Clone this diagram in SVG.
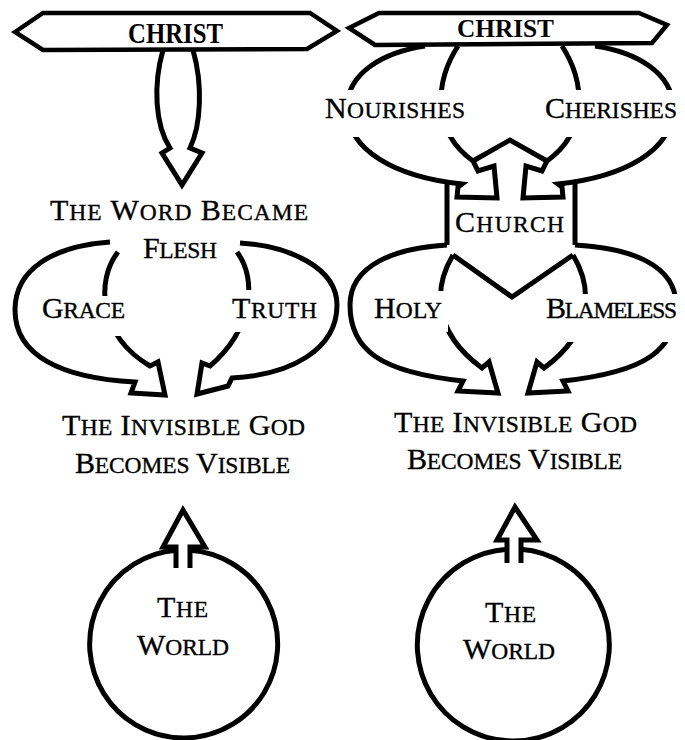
<svg xmlns="http://www.w3.org/2000/svg" width="685" height="740" viewBox="0 0 685 740">
<style>
.ln{fill:none;stroke:#000;stroke-width:5;stroke-linejoin:miter;stroke-miterlimit:6}
.bn{fill:#fff;stroke:#000;stroke-width:4.5;stroke-linejoin:miter}
.t{font-family:"Liberation Serif","Times New Roman",serif;font-size:30px;fill:#000;stroke:#000;stroke-width:0.35}
.s{font-size:23.5px}
.b{font-family:"Liberation Serif","Times New Roman",serif;font-weight:bold;fill:#000}
.bg{fill:#fff}
</style>
<rect width="685" height="740" fill="#fff"/>
<g id="connectors">
  <path class="ln" d="M163,50 C153,85 155,125 170,148 L162,153 L182,185 L202,153 L190,148 C201,125 203,85 193,50"/>
  <path class="ln" d="M110,242 C55,246 15,268 15,310 C15,355 60,378 135,382 L131,393 L165,395 L158,362 L150,366 C98,335 96,280 118,252"/>
  <path class="ln" d="M240,243 C290,246 337,268 337,305 C337,350 290,375 232,378 L228,386 L197,394 L202,363 L210,366 C252,330 258,280 237,252"/>
  <path class="ln" d="M425,46 C385,52 347,72 347,108 C347,150 395,177 462,184 L458,187 L457,197 L497,198 L494,166 L478,171 L473,161 C430,130 436,80 458,46"/>
  <path class="ln" d="M595,46 C635,52 673,72 673,108 C673,150 625,177 558,184 L562,187 L563,197 L523,198 L526,166 L542,171 L547,161 C590,130 584,80 562,46"/>
  <path class="ln" d="M447,245 C395,248 350,265 350,305 C350,350 380,372 463,381 L458,391 L498,393 L489,362 L482,368 C430,330 435,285 453,255"/>
  <path class="ln" d="M575,245 C631,248 676,265 676,305 C676,350 646,372 563,381 L568,391 L528,393 L537,362 L544,368 C596,330 591,285 573,255"/>
  <path class="ln" d="M176,568 L176,547 L163,547 L183,510 L205,547 L190,547 L190,568"/>
  <path class="ln" d="M507,563 L507,540 L497,540 L515,507 L537,540 L521,540 L521,563"/>
</g>
<g id="christ-left">
  <polygon class="bn" points="15,32 43,13 310,13 337,31 307,49 43,50"/>
  <text class="b" x="128" y="43" font-size="29" textLength="95" lengthAdjust="spacingAndGlyphs">CHRIST</text>
</g>
<g id="christ-right">
  <polygon class="bn" points="349,28 379,13 639,13 667,25 652,43 375,45"/>
  <text class="b" x="457" y="37" font-size="25" textLength="97" lengthAdjust="spacingAndGlyphs">CHRIST</text>
</g>
<g id="word-became-flesh">
  <text class="t" x="50" y="220" textLength="258">T<tspan class="s">HE</tspan> W<tspan class="s">ORD</tspan> B<tspan class="s">ECAME</tspan></text>
  <text class="t" x="143" y="258" textLength="74">F<tspan class="s">LESH</tspan></text>
</g>
<g id="grace">
  <rect class="bg" x="38" y="296" width="92" height="40"/>
  <text class="t" x="42" y="318" textLength="83">G<tspan class="s">RACE</tspan></text>
</g>
<g id="truth">
  <rect class="bg" x="227" y="290" width="96" height="42"/>
  <text class="t" x="232" y="318" textLength="85">T<tspan class="s">RUTH</tspan></text>
</g>
<g id="invisible-left">
  <text class="t" x="62" y="435" textLength="243">T<tspan class="s">HE</tspan> I<tspan class="s">NVISIBLE</tspan> G<tspan class="s">OD</tspan></text>
  <text class="t" x="75" y="473" textLength="215">B<tspan class="s">ECOMES</tspan> V<tspan class="s">ISIBLE</tspan></text>
</g>
<g id="world-left">
  <path class="ln" d="M176,550.3 A94,94 0 1,0 190,550.2"/>
  <text class="t" x="157" y="617" textLength="51">T<tspan class="s">HE</tspan></text>
  <text class="t" x="137" y="655" textLength="92">W<tspan class="s">ORLD</tspan></text>
</g>
<g id="nourishes">
  <rect class="bg" x="320" y="90" width="150" height="47"/>
  <text class="t" x="325" y="118" textLength="140">N<tspan class="s">OURISHES</tspan></text>
</g>
<g id="cherishes">
  <rect class="bg" x="540" y="90" width="145" height="47"/>
  <text class="t" x="545" y="118" textLength="132">C<tspan class="s">HERISHES</tspan></text>
</g>
<g id="church">
  <path class="ln" d="M473,161 L510,140 L547,161"/>
  <path class="ln" d="M447,182 L447,245"/>
  <path class="ln" d="M575,182 L575,245"/>
  <path class="ln" d="M453,255 L512,297 L573,255"/>
  <text class="t" x="455" y="232" textLength="109">C<tspan class="s">HURCH</tspan></text>
</g>
<g id="holy">
  <rect class="bg" x="368" y="291" width="80" height="41"/>
  <text class="t" x="374" y="318" textLength="68">H<tspan class="s">OLY</tspan></text>
</g>
<g id="blameless">
  <rect class="bg" x="542" y="294" width="143" height="48"/>
  <text class="t" x="546" y="318" textLength="131">B<tspan class="s">LAMELESS</tspan></text>
</g>
<g id="invisible-right">
  <text class="t" x="394" y="432" textLength="243">T<tspan class="s">HE</tspan> I<tspan class="s">NVISIBLE</tspan> G<tspan class="s">OD</tspan></text>
  <text class="t" x="407" y="469" textLength="215">B<tspan class="s">ECOMES</tspan> V<tspan class="s">ISIBLE</tspan></text>
</g>
<g id="world-right">
  <path class="ln" d="M507,549.2 A96,96 0 1,0 521,549.3"/>
  <text class="t" x="485" y="622" textLength="51">T<tspan class="s">HE</tspan></text>
  <text class="t" x="463" y="659" textLength="92">W<tspan class="s">ORLD</tspan></text>
</g>
</svg>
